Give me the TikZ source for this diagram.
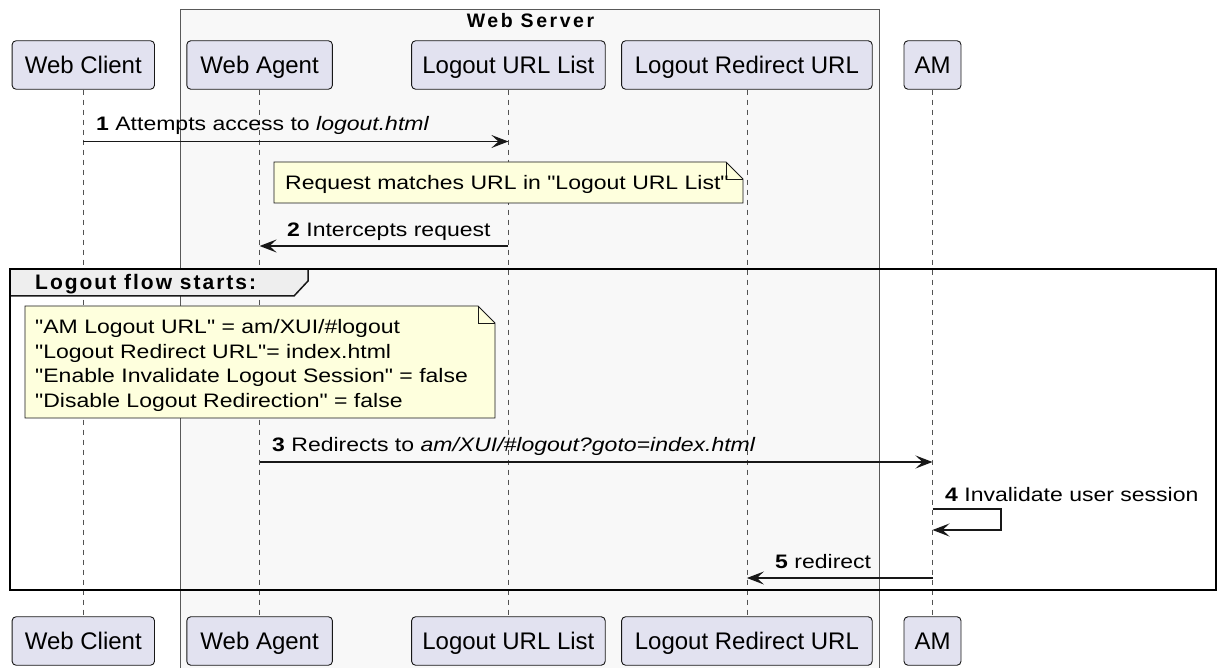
\documentclass[tikz,border=0pt]{standalone}
\usepackage{fontspec}
\setmainfont{Liberation Sans}
\newfontfamily\msgfont[FakeStretch=1.18]{Liberation Sans}
\newfontfamily\wsfont[LetterSpace=13]{Liberation Sans}
\newfontfamily\grpfont[LetterSpace=9.5]{Liberation Sans}
\usetikzlibrary{arrows.meta}
\definecolor{partfill}{HTML}{E2E2F0}
\definecolor{notefill}{HTML}{FEFFDD}
\definecolor{boxfill}{HTML}{F8F8F8}
\definecolor{tabfill}{HTML}{EEEEEE}
\definecolor{ink}{HTML}{181818}
\begin{document}
\begin{tikzpicture}[x=1pt,y=-1pt,
 part/.style={draw=ink, fill=partfill, rounded corners=4pt, line width=0.9pt, inner sep=0pt,
   text height=17.3pt, text depth=0pt, minimum height=48.5pt, font=\fontsize{24}{28}\selectfont},
 life/.style={draw=ink!75, line width=0.8pt, dash pattern=on 5pt off 5pt},
 msg/.style={draw=ink, line width=1.6pt, -{Stealth[length=17pt,width=13pt,inset=7pt]}},
 lbl/.style={anchor=base west, inner sep=0pt, font=\msgfont\fontsize{19.5}{23}\selectfont},
 notebox/.style={draw=ink, fill=notefill, line width=0.9pt},
 ttl/.style={inner sep=0pt}]
\useasboundingbox (0,0) rectangle (1219,668);
% Web Server box
\filldraw[fill=boxfill, draw=gray!70!black, line width=0.9pt] (180.3,9.3) rectangle (879,690);
\node[ttl, anchor=base, font=\wsfont\bfseries\fontsize{19.5}{22}\selectfont] (ws) at (530.5,28) {Web Server};
% participants top
\node[part, minimum width=142.4pt] (WCt) at (83.3,65) {Web Client};
\node[part, minimum width=145.6pt] (WAt) at (259.6,65) {Web Agent};
\node[part, minimum width=193.6pt] (ULt) at (508.4,65) {Logout URL List};
\node[part, minimum width=250.6pt] (RUt) at (746.9,65) {Logout Redirect URL};
\node[part, minimum width=57pt] (AMt) at (932.5,65) {AM};
% participants bottom
\node[part, minimum width=142.4pt] (WCb) at (83.3,641) {Web Client};
\node[part, minimum width=145.6pt] (WAb) at (259.6,641) {Web Agent};
\node[part, minimum width=193.6pt] (ULb) at (508.4,641) {Logout URL List};
\node[part, minimum width=250.6pt] (RUb) at (746.9,641) {Logout Redirect URL};
\node[part, minimum width=57pt] (AMb) at (932.5,641) {AM};
% lifelines
\foreach \p in {WC,WA,UL,RU,AM}{\draw[life] (\p t.south) -- (\p b.north);}
% note 1
\filldraw[notebox] (274,162) -- (726,162) -- (743,179) -- (743,203) -- (274,203) -- cycle;
\draw[draw=ink, line width=0.9pt] (726,162) -- (726,179) -- (743,179);
\node[lbl] (n1) at (285,190) {Request matches URL in "Logout URL List"};
% group frame
\filldraw[fill=tabfill, draw=ink, line width=1.5pt] (10,269) -- (308,269) -- (308,281) -- (294,296) -- (10,296) -- cycle;
\node[ttl, anchor=base west, font=\grpfont\bfseries\fontsize{21}{24}\selectfont] (gt) at (35,290) {Logout flow starts:};
% note 2
\filldraw[notebox] (25,306) -- (478,306) -- (495,323) -- (495,418) -- (25,418) -- cycle;
\draw[draw=ink, line width=0.9pt] (478,306) -- (478,323) -- (495,323);
\node[lbl] (n2a) at (35,334) {"AM Logout URL" = am/XUI/\#logout};
\node[lbl] (n2b) at (35,358.3) {"Logout Redirect URL"= index.html};
\node[lbl] (n2c) at (35,382.6) {"Enable Invalidate Logout Session" = false};
\node[lbl] (n2d) at (35,407) {"Disable Logout Redirection" = false};
\draw[black, line width=2.4pt] (10,269) rectangle (1216,590);
% messages
\coordinate (y1) at (0,141.5);
\coordinate (y2) at (0,246);
\coordinate (y3) at (0,462);
\coordinate (y4a) at (0,509);
\coordinate (y4b) at (0,530);
\coordinate (y5) at (0,578);
\draw[msg] (WCt |- y1) -- (ULt |- y1);
\node[lbl] (m1) at (96,131) {\textbf{1} Attempts access to \textit{logout.html}};
\draw[msg] (ULt |- y2) -- (WAt |- y2);
\node[lbl] (m2) at (287,237) {\textbf{2} Intercepts request};
\draw[msg] (WAt |- y3) -- (AMt |- y3);
\node[lbl] (m3) at (272,451) {\textbf{3} Redirects to \textit{am/XUI/\#logout?goto=index.html}};
\draw[msg] (AMt |- y4a) -- ++(68.5,0) |- (AMt |- y4b);
\node[lbl] (m4) at (945,501) {\textbf{4} Invalidate user session};
\draw[msg] (AMt |- y5) -- (RUt |- y5);
\node[lbl] (m5) at (775,568.5) {\textbf{5} redirect};
\end{tikzpicture}
\end{document}
